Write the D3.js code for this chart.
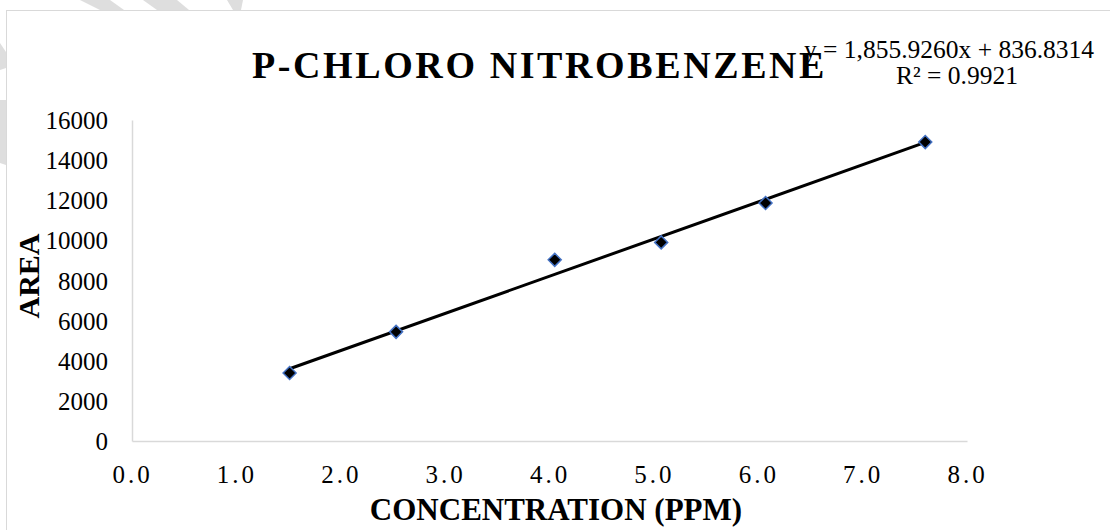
<!DOCTYPE html>
<html>
<head>
<meta charset="utf-8">
<script src="https://cdn.jsdelivr.net/npm/d3@7"></script>
<style>
  html, body { margin: 0; padding: 0; background: #fff; }
  svg { display: block; }
  text { font-family: "Liberation Serif", "Times New Roman", serif; fill: #000; }
</style>
</head>
<body>
<svg id="chart" width="1110" height="530"></svg>
<script>
// ---- data ----
const concentration = [1.51, 2.53, 4.05, 5.07, 6.07, 7.60];
const area = [3390, 5440, 9030, 9900, 11860, 14900];
const xTicks = [0, 1, 2, 3, 4, 5, 6, 7, 8];
const yTicks = [0, 2000, 4000, 6000, 8000, 10000, 12000, 14000, 16000];
const titleText = "P-CHLORO NITROBENZENE";
const xTitle = "CONCENTRATION (PPM)";
const yTitle = "AREA";
const eqText = "y = 1,855.9260x + 836.8314";
const r2Text = "R² = 0.9921";

const svg = d3.select("#chart");

// faint watermark bands outside chart frame
const bands = [
  [[80,0],[110,0],[124,10],[100,10]],
  [[143,0],[177,0],[189,10],[157,10]],
  [[227,0],[243,0],[241,10],[233,10]],
  [[0,43],[6,52],[6,68],[0,70]],
  [[0,100],[6,100],[6,165],[0,163]]
];
svg.selectAll("polygon.band").data(bands).enter().append("polygon")
  .attr("points", d => d.map(p => p.join(",")).join(" "))
  .attr("fill", "#dedede");

// chart frame
svg.append("rect")
  .attr("x", 6.5).attr("y", 10.5)
  .attr("width", 1120).attr("height", 540)
  .attr("fill", "#fff").attr("stroke", "#d9d9d9").attr("stroke-width", 1);

// scales
const x = d3.scaleLinear().domain([0, 8]).range([132, 967]);
const y = d3.scaleLinear().domain([0, 16000]).range([441, 120]);

// y axis
const gy = svg.append("g").attr("transform", "translate(132,0)")
  .call(d3.axisLeft(y).tickValues(yTicks).tickSize(0).tickSizeOuter(0).tickPadding(24).tickFormat(d3.format("d")));
gy.select(".domain").attr("stroke", "#d9d9d9").attr("stroke-width", 1.5);
gy.selectAll("text")
  .style("font-family", '"Liberation Serif", "Times New Roman", serif')
  .style("font-size", "25px").attr("fill", "#000").attr("dy", "0.34em");

// x axis
const gx = svg.append("g").attr("transform", "translate(0,441)")
  .call(d3.axisBottom(x).tickValues(xTicks).tickSize(0).tickSizeOuter(0).tickFormat(d3.format(".1f")));
gx.select(".domain").attr("stroke", "#d9d9d9").attr("stroke-width", 1.5);
gx.selectAll("text")
  .style("font-family", '"Liberation Serif", "Times New Roman", serif')
  .style("font-size", "25px").style("letter-spacing", "3px")
  .attr("fill", "#000").attr("y", 42).attr("dy", 0).attr("dx", 0);

// linear trendline (least squares from the data)
const n = concentration.length;
const mx = d3.mean(concentration), my = d3.mean(area);
let sxy = 0, sxx = 0;
for (let i = 0; i < n; i++) {
  sxy += (concentration[i] - mx) * (area[i] - my);
  sxx += (concentration[i] - mx) ** 2;
}
const slope = sxy / sxx, intercept = my - slope * mx;
const xMin = d3.min(concentration), xMax = d3.max(concentration);
svg.append("line")
  .attr("x1", x(xMin)).attr("y1", y(slope * xMin + intercept))
  .attr("x2", x(xMax)).attr("y2", y(slope * xMax + intercept))
  .attr("stroke", "#000").attr("stroke-width", 3);

// markers (diamonds)
const r = 6.5;
svg.selectAll("path.pt").data(concentration.map((c, i) => [c, area[i]])).enter().append("path")
  .attr("class", "pt")
  .attr("d", d => {
    const cx = x(d[0]), cy = y(d[1]);
    return `M${cx},${cy - r}L${cx + r},${cy}L${cx},${cy + r}L${cx - r},${cy}Z`;
  })
  .attr("fill", "#000").attr("stroke", "#4472C4").attr("stroke-width", 1.5);

// title
svg.append("text")
  .attr("x", 252).attr("y", 78)
  .style("font-size", "38px").style("font-weight", "bold").style("letter-spacing", "2.6px")
  .text(titleText);

// equation
svg.append("text").attr("x", 949).attr("y", 58).attr("text-anchor", "middle")
  .style("font-size", "25.5px").text(eqText);
svg.append("text").attr("x", 957).attr("y", 84).attr("text-anchor", "middle")
  .style("font-size", "25.5px").text(r2Text);

// axis titles
svg.append("text").attr("x", 556).attr("y", 520).attr("text-anchor", "middle")
  .style("font-size", "31px").style("font-weight", "bold").text(xTitle);
svg.append("text").attr("transform", "translate(39,276) rotate(-90)").attr("text-anchor", "middle")
  .style("font-size", "30px").style("font-weight", "bold").text(yTitle);
</script>
</body>
</html>
